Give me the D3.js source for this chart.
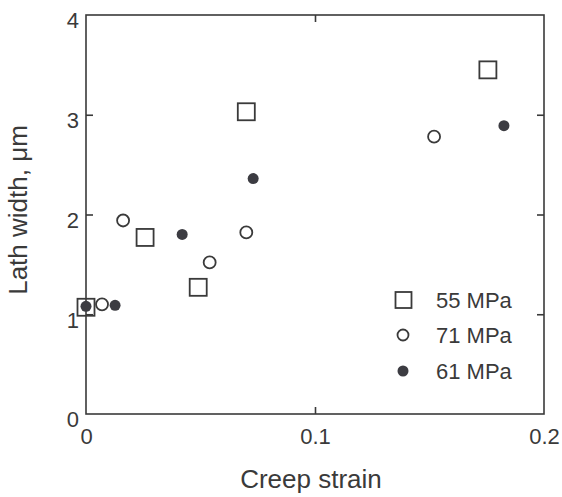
<!DOCTYPE html>
<html><head><meta charset="utf-8">
<script src="https://cdn.jsdelivr.net/npm/d3@7"></script>
<style>
html,body{margin:0;padding:0;background:#fff;}
svg{display:block;font-family:"Liberation Sans",Arial,Helvetica,sans-serif;}
</style></head>
<body><svg id="c" width="562" height="497"></svg>
<script>
const xTicks = [0, 0.1, 0.2];
const yTicks = [0, 1, 2, 3, 4];
const seriesNames = ["55 MPa", "71 MPa", "61 MPa"];
const s55x = [0.000, 0.0258, 0.049, 0.070, 0.1755];
const s55y = [1.07, 1.77, 1.27, 3.03, 3.45];
const s71x = [0.007, 0.0162, 0.054, 0.070, 0.152];
const s71y = [1.10, 1.94, 1.52, 1.82, 2.78];
const s61x = [0.000, 0.0127, 0.042, 0.073, 0.1825];
const s61y = [1.08, 1.09, 1.80, 2.36, 2.89];

const svg = d3.select("#c");
const L = 86, R = 544, T = 15, B = 414;
const x = d3.scaleLinear().domain([0, 0.2]).range([L, R]);
const y = d3.scaleLinear().domain([0, 4]).range([B, T]);
const ink = "#3a3a3a", txt = "#3a3a3a";

// frame
svg.append("rect").attr("x", L).attr("y", T).attr("width", R - L).attr("height", B - T)
  .attr("fill", "none").attr("stroke", ink).attr("stroke-width", 1.6);

// axes with inward ticks
const fmt = d => d === 0 ? "0" : String(d);
const gl = svg.append("g").attr("transform", `translate(${L},0)`)
  .call(d3.axisLeft(y).tickValues(yTicks).tickSize(-7).tickPadding(7).tickFormat(fmt));
const gr = svg.append("g").attr("transform", `translate(${R},0)`)
  .call(d3.axisRight(y).tickValues(yTicks.slice(1, 4)).tickSize(-7).tickFormat(""));
const gb = svg.append("g").attr("transform", `translate(0,${B})`)
  .call(d3.axisBottom(x).tickValues(xTicks).tickSize(-7).tickPadding(14).tickFormat(fmt));
const gt = svg.append("g").attr("transform", `translate(0,${T})`)
  .call(d3.axisTop(x).tickValues([0.1]).tickSize(-7).tickFormat(""));
[gl, gr, gb, gt].forEach(g => {
  g.select(".domain").remove();
  g.selectAll(".tick line").attr("stroke", ink).attr("stroke-width", 1.6);
  g.selectAll(".tick text").attr("fill", txt).attr("font-size", 22);
});
gl.selectAll(".tick text").attr("dy", "0.58em");
gl.selectAll(".tick").filter(d => d === 0 || d === 4).select("line").remove();
gb.selectAll(".tick").filter(d => d === 0 || d === 0.2).select("line").remove();

// axis titles
svg.append("text").attr("x", 311).attr("y", 488).attr("text-anchor", "middle")
  .attr("fill", txt).attr("font-size", 26).text("Creep strain");
svg.append("text").attr("transform", "translate(27,210) rotate(-90)").attr("text-anchor", "middle")
  .attr("fill", txt).attr("font-size", 26).text("Lath width, μm");

const zip = (xs, ys) => xs.map((v, i) => ({x: v, y: ys[i]}));
const sq = 17;
svg.append("g").selectAll("rect").data(zip(s55x, s55y)).join("rect")
  .attr("x", d => x(d.x) - sq / 2).attr("y", d => y(d.y) - sq / 2)
  .attr("width", sq).attr("height", sq)
  .attr("fill", "none").attr("stroke", ink).attr("stroke-width", 1.8);
svg.append("g").selectAll("circle").data(zip(s71x, s71y)).join("circle")
  .attr("cx", d => x(d.x)).attr("cy", d => y(d.y)).attr("r", 6)
  .attr("fill", "#fff").attr("stroke", ink).attr("stroke-width", 1.8);
svg.append("g").selectAll("circle").data(zip(s61x, s61y)).join("circle")
  .attr("cx", d => x(d.x)).attr("cy", d => y(d.y)).attr("r", 5.5)
  .attr("fill", "#3c3c42").attr("stroke", "none");

// legend
const lg = svg.append("g");
const ly = [300, 335, 371];
lg.append("rect").attr("x", 395.5).attr("y", ly[0] - 8).attr("width", 16).attr("height", 16)
  .attr("fill", "none").attr("stroke", ink).attr("stroke-width", 1.8);
lg.append("circle").attr("cx", 403).attr("cy", ly[1]).attr("r", 5.5)
  .attr("fill", "none").attr("stroke", ink).attr("stroke-width", 1.8);
lg.append("circle").attr("cx", 403).attr("cy", ly[2]).attr("r", 5.5)
  .attr("fill", "#3c3c42");
seriesNames.forEach((n, i) => {
  lg.append("text").attr("x", 436).attr("y", ly[i] + 8).attr("fill", txt)
    .attr("font-size", 22).text(n);
});
</script></body></html>
